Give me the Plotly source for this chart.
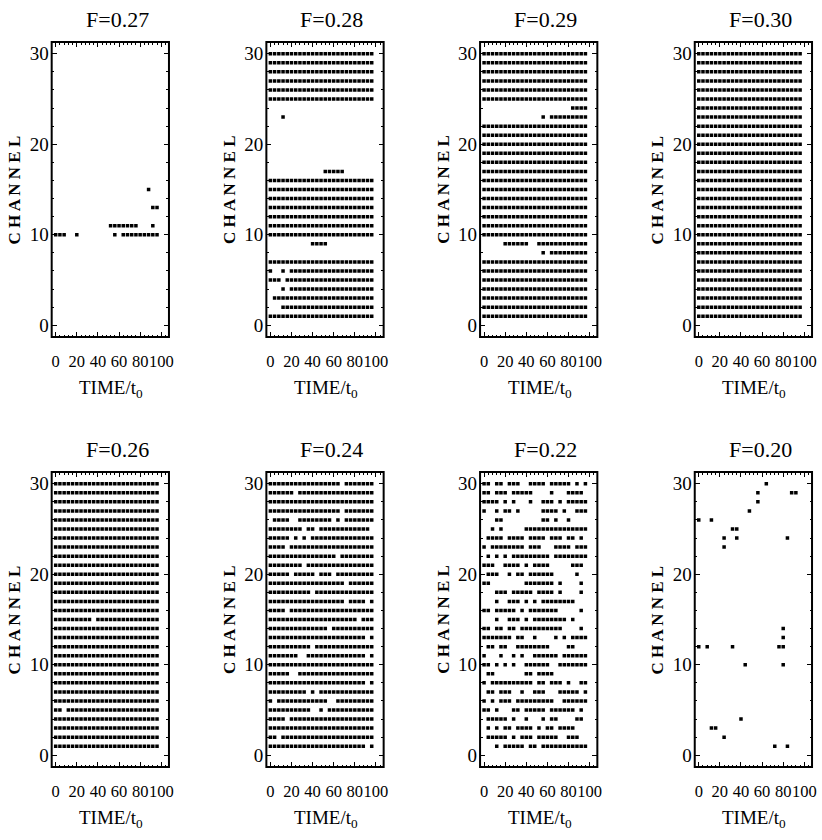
import plotly.graph_objects as go

# Sampling instants (in units of t0) and channel numbers of the raster
TIMES = [0, 4, 8, 12, 16, 20, 24, 28, 32, 36, 40, 44, 48,
         52, 56, 60, 64, 68, 72, 76, 80, 84, 88, 92, 96]
CHANNELS = [30, 29, 28, 27, 26, 25, 24, 23, 22, 21, 20, 19, 18, 17, 16,
            15, 14, 13, 12, 11, 10, 9, 8, 7, 6, 5, 4, 3, 2, 1]

# One character per sampling instant: '#' = channel firing, '.' = silent
FULL = "##### ##### ##### ##### #####"
EMPTY = "..... ..... ..... ..... ....."

RASTER_F027 = {
    15: "..... ..... ..... ..... ..#..",
    13: "..... ..... ..... ..... ...##",
    11: "..... ..... ...## ##### ...#.",
    10: "###.. #.... ....# .#### #####",
}

RASTER_F028 = {
    30: FULL, 29: FULL, 28: FULL, 27: FULL, 26: FULL, 25: FULL,
    23: "...#. ..... ..... ..... .....",
    17: "..... ..... ...## ###.. .....",
    16: FULL, 15: FULL, 14: FULL, 13: FULL, 12: FULL, 11: FULL, 10: FULL,
    9: "..... ..... ####. ..... .....",
    7: FULL,
    6: "#..#. ##### ##### ##### #####",
    5: "###.# ##### ##### ##### #####",
    4: "...#. ##### ##### ##### #####",
    3: ".#### ##### ##### ##### #####",
    2: "...## ##### ##### ##### #####",
    1: FULL,
}

RASTER_F029 = {
    24: "..... ..... ..... ..... .####",
    23: "..... ..... ....# .#### #####",
    9: "..... ##### #..## ##### #####",
    8: "..... ..... ....# .#### #####",
}

RASTER_F030 = {}

RASTER_F026 = {
    15: "##### ####. ##### ##### #####",
    5: "##.## ##### ##### ##### #####",
}

RASTER_F024 = {
    30: "##### ##### ##### ##.## #####",
    29: "##### #.### ##### ##### #####",
    27: "##### ##### ##### ##.## #####",
    26: ".#### ..### ##### .#.## #####",
    25: "##### ###.# #.### ##### ####.",
    24: "##### .#.#. ##### ##### #####",
    23: "####. ##### ##### ##### #####",
    22: "##### ##### ##### #.### #####",
    21: "##### ###.# ##### ##### #####",
    20: "##### .#### #.### .#### #####",
    19: "##### ##### ##### ###.# #####",
    18: "##### ##### .#### ##### #####",
    17: "##### ##### ##### ###.# ###.#",
    16: "####. ##### ##### ##### #####",
    15: "##### ##### ##### ##### #.###",
    14: "##### ##### ####. ##### #####",
    13: "##### ##### ##### ##### ###.#",
    12: "##### ##### .#### ##### #####",
    11: "##### ##..# ##### ##### ###.#",
    9: "##### ..### ##### ##### #####",
    8: "##### ##### ##### ##### ###.#",
    7: "##### ####. #.### ##### #####",
    6: "#.### ##### ####. .#### #####",
    5: "##### ##### ..#.# ##### #####",
    4: "####. ##### ##### ##### #####",
    2: "##.## ##### ##### ##### #####",
    1: "##### ##### ##### ##### ###.#",
}

RASTER_F022 = {
    30: "##.## .###. .#### .#### #.#.#",
    29: "##.## #.### ##... .#... ####.",
    28: "####. #.#.. .#..# ##.#. #####",
    27: "#..#. ##.#. ....# ###.# ..###",
    26: "...## ..... ....# #.#.. #....",
    25: "..#.# ..... ##### ##### #####",
    24: ".#### .#### .#### .###. ##.#.",
    23: "#.### ##### .###. ..### #.###",
    22: ".#.#. #.### ##### #.### #####",
    21: "###.. ####. #.### #.... .###.",
    20: ".###. .#.## .#### ##... ..#..",
    19: "##... ..... ##### ##.#. ...#.",
    18: "...## #.### ##.## ##.#. ...#.",
    17: "...#. .###. #.#.# ##### ##...",
    16: "##.## ###.# .#### ###.. ...#.",
    15: "...#. .###. #.### ##### .#...",
    14: "##.## .##.# ##### ####. ...#.",
    13: "##### ##.## ..#.. ..#.# .####",
    12: ".##.# #..## ##### #.... ##...",
    11: "#...# ..#.# ..### ###.# #####",
    10: "##.#. #.#.. ##### #..## #####",
    9: ".##.. ..... ##.## ##... .....",
    8: "#.### ##### ##.## .###. #..##",
    7: ".##.# ##..# ..### ...## ###.#",
    6: "#.#.# ##.## ##### ##..# #####",
    5: "##.#. ..##. ##### .#### ##.#.",
    4: ".#### #.#.. #...# .##.. ..##.",
    3: ".#.#. ##.## ##.#. ##.## ##...",
    2: ".#### #.#.# ##.## ###.. ###..",
    1: "...#. ##### .##.# ##### #####",
}

RASTER_F020 = {
    30: "..... ..... ..... .#... .....",
    29: "..... ..... ....# ..... ..##.",
    28: "..... ..... ....# ..... .....",
    27: "..... ..... ..#.. ..... .....",
    26: "#..#. ..... ..... ..... .....",
    25: "..... ...## ..... ..... .....",
    24: "..... .#..# ..... ..... .#...",
    23: "..... .#... ..... ..... .....",
    14: "..... ..... ..... ..... #....",
    13: "..... ..... ..... ..... #....",
    12: "#.#.. ...#. ..... ....# #....",
    10: "..... ..... .#... ..... #....",
    4: "..... ..... #.... ..... .....",
    3: "...## ..... ..... ..... .....",
    2: "..... .#... ..... ..... .....",
    1: "..... ..... ..... ...#. .#...",
}

# (title, row used for channels not listed, listed rows)
PANELS = [
    ("F=0.27", EMPTY, RASTER_F027),
    ("F=0.28", EMPTY, RASTER_F028),
    ("F=0.29", FULL, RASTER_F029),
    ("F=0.30", FULL, RASTER_F030),
    ("F=0.26", FULL, RASTER_F026),
    ("F=0.24", FULL, RASTER_F024),
    ("F=0.22", EMPTY, RASTER_F022),
    ("F=0.20", EMPTY, RASTER_F020),
]

X_TICKS = [0, 20, 40, 60, 80, 100]
Y_TICKS = [0, 10, 20, 30]

# Page geometry in pixels
W, H = 822, 840
BOX_LEFT = [52, 268, 483, 699]
BOX_TOP = [42, 472]
BOX_W, BOX_H = 118, 295
FONT = "Liberation Serif, Times New Roman, serif"

fig = go.Figure()
annotations = []
shapes = []

for i, (title, base, rows) in enumerate(PANELS):
    r, c = divmod(i, 4)
    n = i + 1
    suffix = "" if n == 1 else str(n)
    xs, ys = [], []
    for ch in CHANNELS:
        row = rows.get(ch, base).replace(" ", "")
        for t, flag in zip(TIMES, row):
            if flag == "#":
                xs.append(t)
                ys.append(ch)
    fig.add_trace(go.Scatter(
        x=xs, y=ys, mode="markers",
        marker=dict(symbol="square", size=3.5, color="black", line=dict(width=0)),
        xaxis="x" + suffix, yaxis="y" + suffix,
        hoverinfo="skip", showlegend=False,
    ))

    left, top = BOX_LEFT[c], BOX_TOP[r]
    x0, x1 = left / W, (left + BOX_W) / W
    y0, y1 = 1 - (top + BOX_H) / H, 1 - top / H

    common = dict(
        showline=False, mirror="allticks",
        ticks="inside", ticklen=5, tickwidth=1, tickcolor="black",
        showgrid=False, zeroline=False, fixedrange=True,
    )
    fig.layout["xaxis" + suffix] = dict(
        common, domain=[x0, x1], range=[-3.8, 107.3], anchor="y" + suffix,
        tickmode="array", tickvals=X_TICKS, ticktext=[str(v) for v in X_TICKS],
        tickangle=0, ticklabelstandoff=12,
        tickfont=dict(family=FONT, size=16.5, color="black"),
        minor=dict(ticks="inside", ticklen=2.5, tickcolor="black",
                   tick0=0, dtick=4, showgrid=False),
    )
    fig.layout["yaxis" + suffix] = dict(
        common, domain=[y0, y1], range=[-1.3, 31.3], anchor="x" + suffix,
        tickmode="array", tickvals=Y_TICKS, ticktext=[str(v) for v in Y_TICKS],
        ticklabelstandoff=2,
        tickfont=dict(family=FONT, size=19, color="black"),
        minor=dict(ticks="inside", ticklen=2.5, tickcolor="black",
                   tick0=0, dtick=2, showgrid=False),
    )

    # frame around the plotting area
    shapes.append(dict(
        type="rect", xref="x" + suffix + " domain", yref="y" + suffix + " domain",
        x0=0, x1=1, y0=0, y1=1, line=dict(color="black", width=2),
        fillcolor="rgba(0,0,0,0)", layer="above",
    ))

    cx = left + BOX_W / 2
    annotations.append(dict(
        text=title, x=(cx + 7) / W, y=1 - (top - 23) / H,
        xref="paper", yref="paper", showarrow=False,
        xanchor="center", yanchor="middle",
        font=dict(family=FONT, size=22, color="black"),
    ))
    annotations.append(dict(
        text="<b>C H A N N E L</b>", x=(left - 37) / W,
        y=1 - (top + BOX_H / 2) / H, xref="paper", yref="paper",
        showarrow=False, textangle=-90, xanchor="center", yanchor="middle",
        font=dict(family=FONT, size=17, color="black"),
    ))
    annotations.append(dict(
        text="TIME/t<sub>0</sub>",
        x=(cx + 1) / W, y=1 - (top + BOX_H + 52) / H,
        xref="paper", yref="paper",
        showarrow=False, xanchor="center", yanchor="middle",
        font=dict(family=FONT, size=19, color="black"),
    ))

fig.update_layout(
    width=W, height=H, margin=dict(l=0, r=0, t=0, b=0),
    paper_bgcolor="white", plot_bgcolor="white",
    showlegend=False, annotations=annotations, shapes=shapes,
)

fig.write_html("out.html")
